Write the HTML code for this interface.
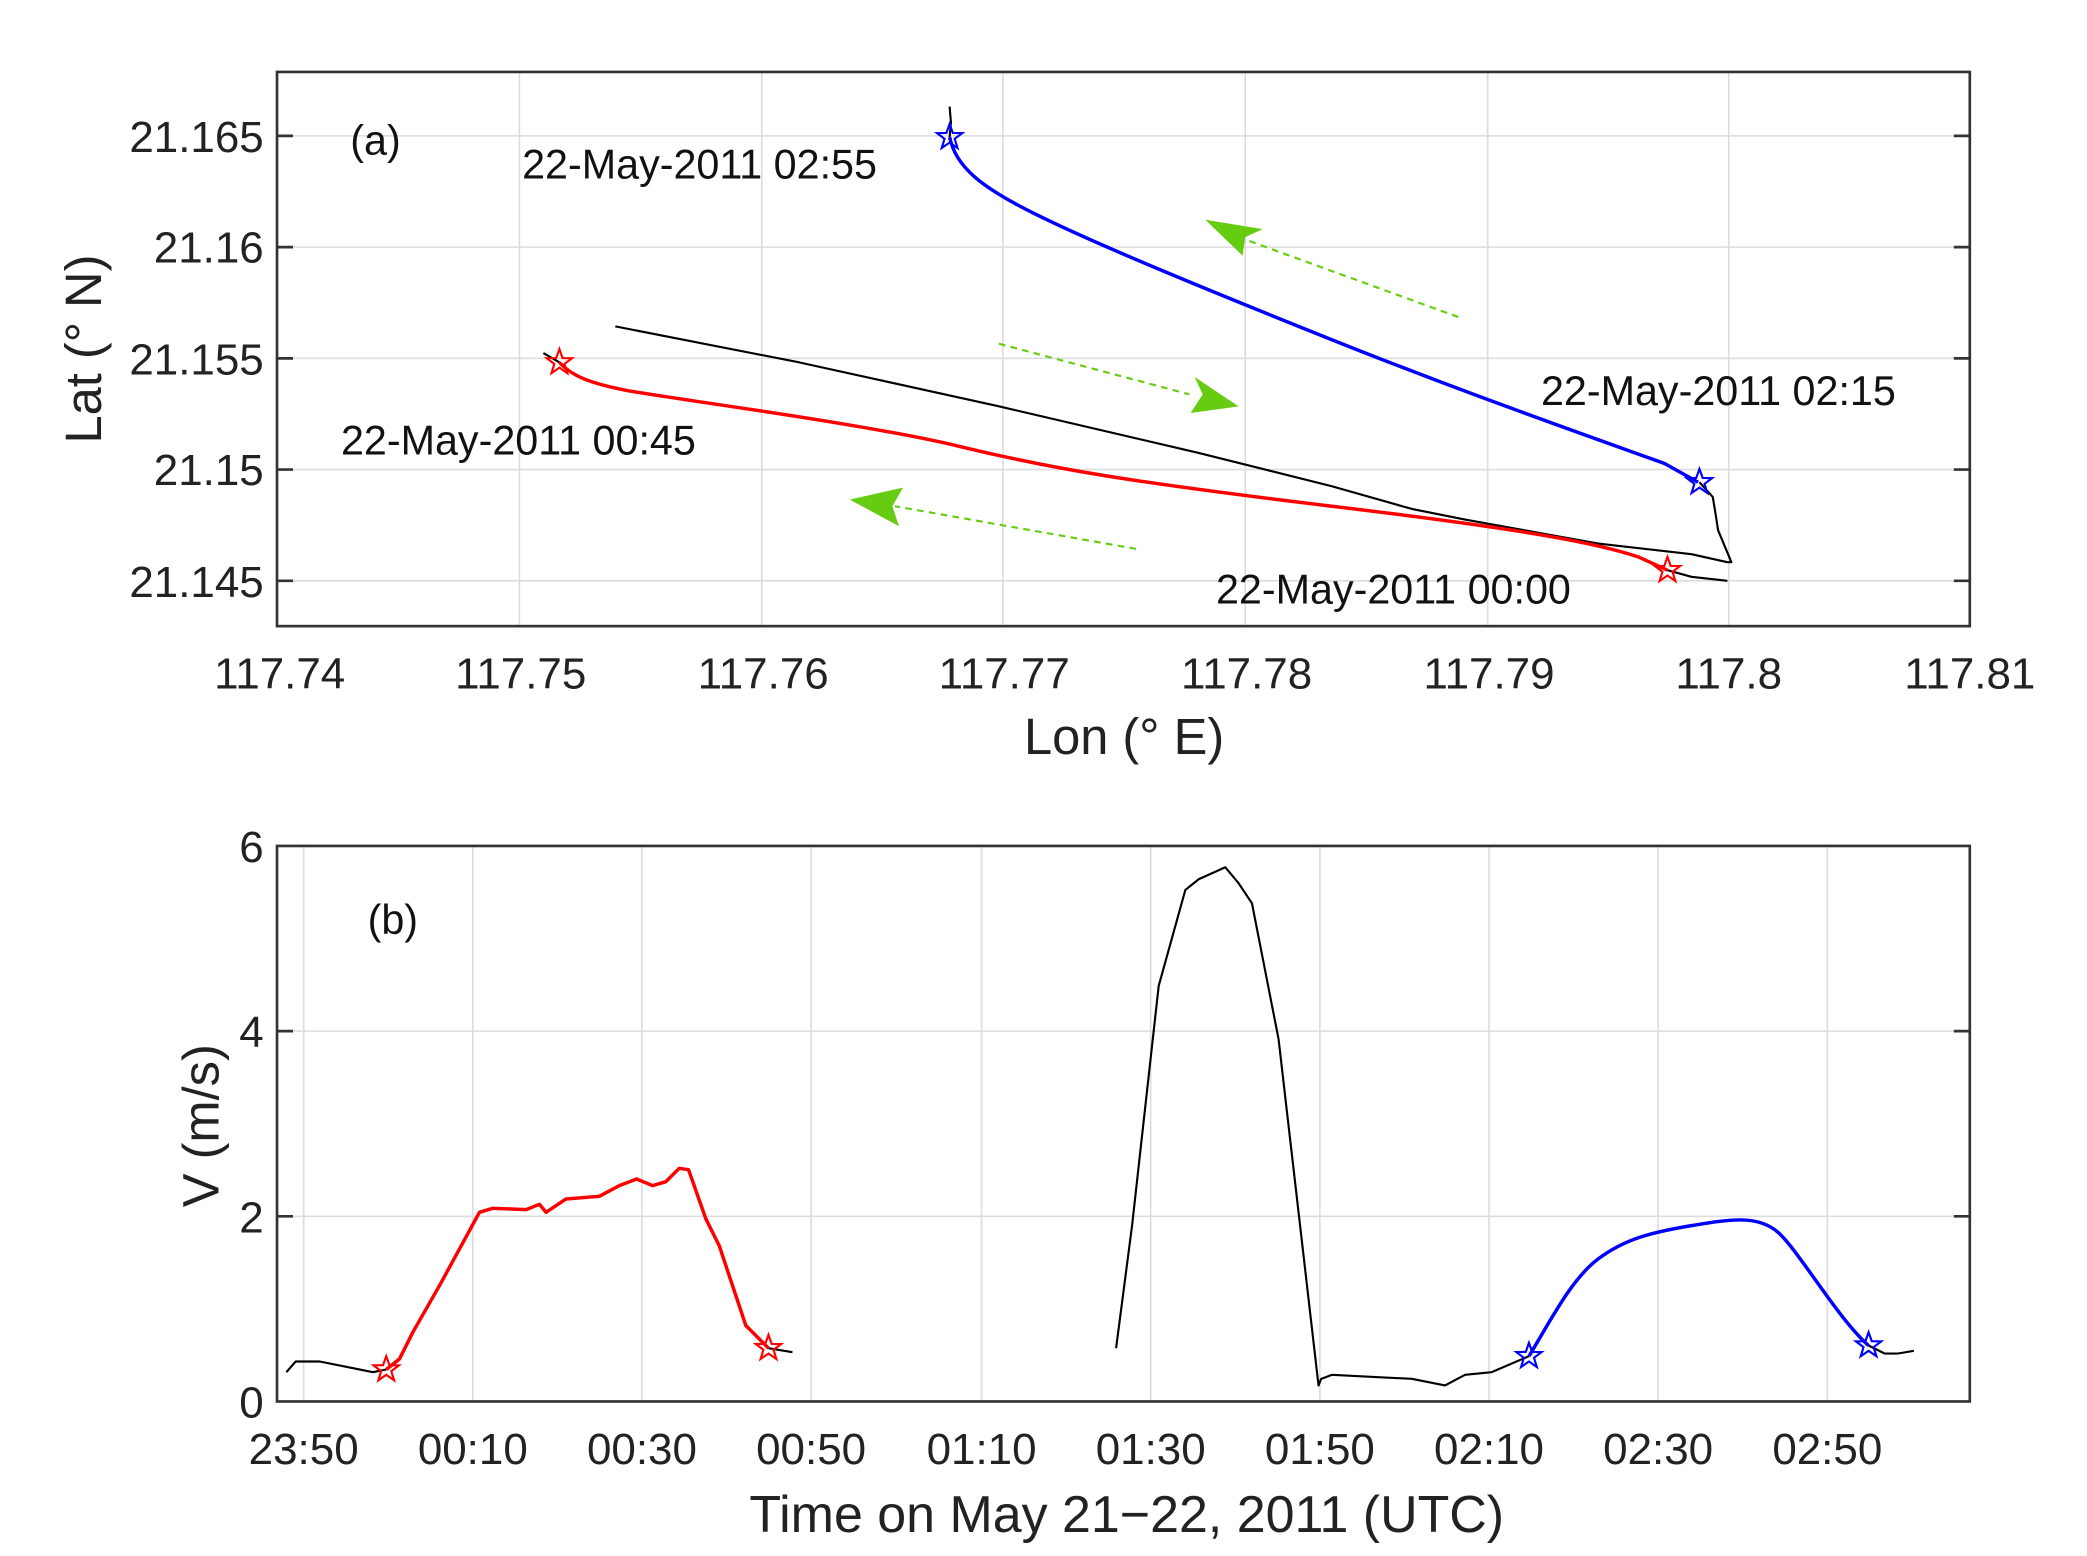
<!DOCTYPE html>
<html><head><meta charset="utf-8"><style>html,body{margin:0;padding:0;background:#fff}svg{display:block}</style></head>
<body>
<svg width="2087" height="1556" viewBox="0 0 1567 1168" preserveAspectRatio="none" xmlns="http://www.w3.org/2000/svg" font-family="Liberation Sans, sans-serif">
<defs>
<symbol id="st" viewBox="-11 -11 22 22" overflow="visible"><polygon points="0,-10 2.4,-3.2 9.5,-3.1 3.8,1.2 5.9,8.1 0,4 -5.9,8.1 -3.8,1.2 -9.5,-3.1 -2.4,-3.2" fill="none" stroke-width="1.6" stroke="currentColor"/></symbol>
</defs>
<!-- Panel a -->
<g stroke="#dcdcdc" stroke-width="1.2">
<line x1="390" y1="54" x2="390" y2="470"/><line x1="572" y1="54" x2="572" y2="470"/><line x1="753" y1="54" x2="753" y2="470"/><line x1="935" y1="54" x2="935" y2="470"/><line x1="1117" y1="54" x2="1117" y2="470"/><line x1="1298" y1="54" x2="1298" y2="470"/>
<line x1="208" y1="102" x2="1479" y2="102"/><line x1="208" y1="185.5" x2="1479" y2="185.5"/><line x1="208" y1="269" x2="1479" y2="269"/><line x1="208" y1="352.5" x2="1479" y2="352.5"/><line x1="208" y1="436" x2="1479" y2="436"/>
</g>
<rect x="208" y="54" width="1271" height="416" fill="none" stroke="#333" stroke-width="2"/>
<g stroke="#333" stroke-width="2">
<line x1="208" y1="102" x2="220" y2="102"/><line x1="208" y1="185.5" x2="220" y2="185.5"/><line x1="208" y1="269" x2="220" y2="269"/><line x1="208" y1="352.5" x2="220" y2="352.5"/><line x1="208" y1="436" x2="220" y2="436"/>
<line x1="1479" y1="102" x2="1467" y2="102"/><line x1="1479" y1="185.5" x2="1467" y2="185.5"/><line x1="1479" y1="269" x2="1467" y2="269"/><line x1="1479" y1="352.5" x2="1467" y2="352.5"/><line x1="1479" y1="436" x2="1467" y2="436"/>
</g>
<g font-size="33" fill="#222" text-anchor="end">
<text x="198" y="114">21.165</text><text x="198" y="197">21.16</text><text x="198" y="281">21.155</text><text x="198" y="364">21.15</text><text x="198" y="448">21.145</text>
</g>
<g font-size="33" fill="#222" text-anchor="middle">
<text x="210" y="517">117.74</text><text x="391" y="517">117.75</text><text x="573" y="517">117.76</text><text x="754" y="517">117.77</text><text x="936" y="517">117.78</text><text x="1118" y="517">117.79</text><text x="1298" y="517">117.8</text><text x="1479" y="517">117.81</text>
<text x="844" y="566" font-size="38">Lon (° E)</text>
<text transform="translate(76,262) rotate(-90)" font-size="38">Lat (° N)</text>
</g>
<g font-size="31" fill="#111">
<text x="263" y="116">(a)</text>
<text x="392" y="134">22-May-2011 02:55</text>
<text x="1157" y="304">22-May-2011 02:15</text>
<text x="256" y="341">22-May-2011 00:45</text>
<text x="913" y="453">22-May-2011 00:00</text>
</g>
<g fill="none" stroke-linejoin="round">
<polyline stroke="#000" stroke-width="1.6" points="713,80 714,92 713,103"/>
<polyline stroke="#000" stroke-width="1.6" points="462,245 600,272 750,305 900,340 1000,365 1060,382 1100,390 1200,408 1270,416 1297,422 1300,422 1295,410 1290,398 1288,385 1286,373 1276,362"/>
<polyline stroke="#000" stroke-width="1.6" points="408,265 420,272"/>
<polyline stroke="#000" stroke-width="1.6" points="1252,428 1270,433 1297,436"/>
<path stroke="#0000ff" stroke-width="2.6" d="M713,103 C718,125 735,140 780,162 S 900,215 1000,255 S 1200,330 1250,348 L1275,362"/>
<path stroke="#ff0000" stroke-width="2.6" d="M420,272 C430,283 445,288 470,293 S 650,318 720,335 S 850,362 1000,380 S 1200,408 1230,418 L1252,428"/>
</g>
<use href="#st" x="702" y="92" width="22" height="22" color="#0000ff"/>
<use href="#st" x="1265" y="351" width="22" height="22" color="#0000ff"/>
<use href="#st" x="409" y="261" width="22" height="22" color="#ff0000"/>
<use href="#st" x="1241" y="417" width="22" height="22" color="#ff0000"/>
<g stroke="#66cc11" stroke-width="1.6" stroke-dasharray="5,4" fill="none">
<line x1="1095" y1="238" x2="930" y2="178"/><line x1="750" y1="258" x2="893" y2="296"/><line x1="853" y1="412" x2="672" y2="380"/>
</g>
<g fill="#66cc11">
<polygon points="905,165 948,172 935,178 933,192"/>
<polygon points="930,305 894,310 903,296 897,283"/>
<polygon points="638,375 678,366 670,380 675,395"/>
</g>
<!-- Panel b -->
<g stroke="#dcdcdc" stroke-width="1.2">
<line x1="228" y1="635" x2="228" y2="1052"/><line x1="355" y1="635" x2="355" y2="1052"/><line x1="482" y1="635" x2="482" y2="1052"/><line x1="609" y1="635" x2="609" y2="1052"/><line x1="737" y1="635" x2="737" y2="1052"/><line x1="864" y1="635" x2="864" y2="1052"/><line x1="991" y1="635" x2="991" y2="1052"/><line x1="1118" y1="635" x2="1118" y2="1052"/><line x1="1245" y1="635" x2="1245" y2="1052"/><line x1="1372" y1="635" x2="1372" y2="1052"/>
<line x1="208" y1="913" x2="1479" y2="913"/><line x1="208" y1="774" x2="1479" y2="774"/>
</g>
<rect x="208" y="635" width="1271" height="417" fill="none" stroke="#333" stroke-width="2"/>
<g stroke="#333" stroke-width="2">
<line x1="208" y1="913" x2="220" y2="913"/><line x1="208" y1="774" x2="220" y2="774"/><line x1="1479" y1="913" x2="1467" y2="913"/><line x1="1479" y1="774" x2="1467" y2="774"/>
</g>
<g font-size="33" fill="#222" text-anchor="end">
<text x="198" y="1064">0</text><text x="198" y="925">2</text><text x="198" y="786">4</text><text x="198" y="647">6</text>
</g>
<g font-size="33" fill="#222" text-anchor="middle">
<text x="228" y="1099">23:50</text><text x="355" y="1099">00:10</text><text x="482" y="1099">00:30</text><text x="609" y="1099">00:50</text><text x="737" y="1099">01:10</text><text x="864" y="1099">01:30</text><text x="991" y="1099">01:50</text><text x="1118" y="1099">02:10</text><text x="1245" y="1099">02:30</text><text x="1372" y="1099">02:50</text>
<text x="846" y="1150" font-size="39">Time on May 21−22, 2011 (UTC)</text>
<text transform="translate(164,845) rotate(-90)" font-size="38">V (m/s)</text>
</g>
<text x="276" y="701" font-size="31" fill="#111">(b)</text>
<g fill="none" stroke-linejoin="round">
<polyline stroke="#000" stroke-width="1.6" points="215,1030 222,1022 240,1022 260,1026 280,1030 290,1028"/>
<polyline stroke="#000" stroke-width="1.6" points="577,1012 595,1015"/>
<polyline stroke="#000" stroke-width="1.6" points="838,1012 850,920 870,740 890,668 900,660 920,651 930,663 940,678 960,780 990,1040 992,1035 1000,1032 1020,1033 1060,1035 1085,1040 1100,1032 1120,1030 1148,1018"/>
<polyline stroke="#000" stroke-width="1.6" points="1403,1010 1415,1016 1425,1016 1437,1014"/>
<polyline stroke="#ff0000" stroke-width="2.6" points="290,1028 300,1020 310,1000 330,965 360,910 370,907 395,908 405,904 410,910 425,900 450,898 465,890 478,885 490,890 500,887 510,877 517,878 530,915 540,935 560,995 577,1012"/>
<path stroke="#0000ff" stroke-width="2.6" d="M1148,1018 C1165,990 1180,960 1200,945 S 1240,925 1270,920 S 1320,912 1335,925 S 1380,990 1403,1010"/>
</g>
<use href="#st" x="279" y="1017" width="22" height="22" color="#ff0000"/>
<use href="#st" x="566" y="1001" width="22" height="22" color="#ff0000"/>
<use href="#st" x="1137" y="1007" width="22" height="22" color="#0000ff"/>
<use href="#st" x="1392" y="999" width="22" height="22" color="#0000ff"/>
</svg>
</body></html>
